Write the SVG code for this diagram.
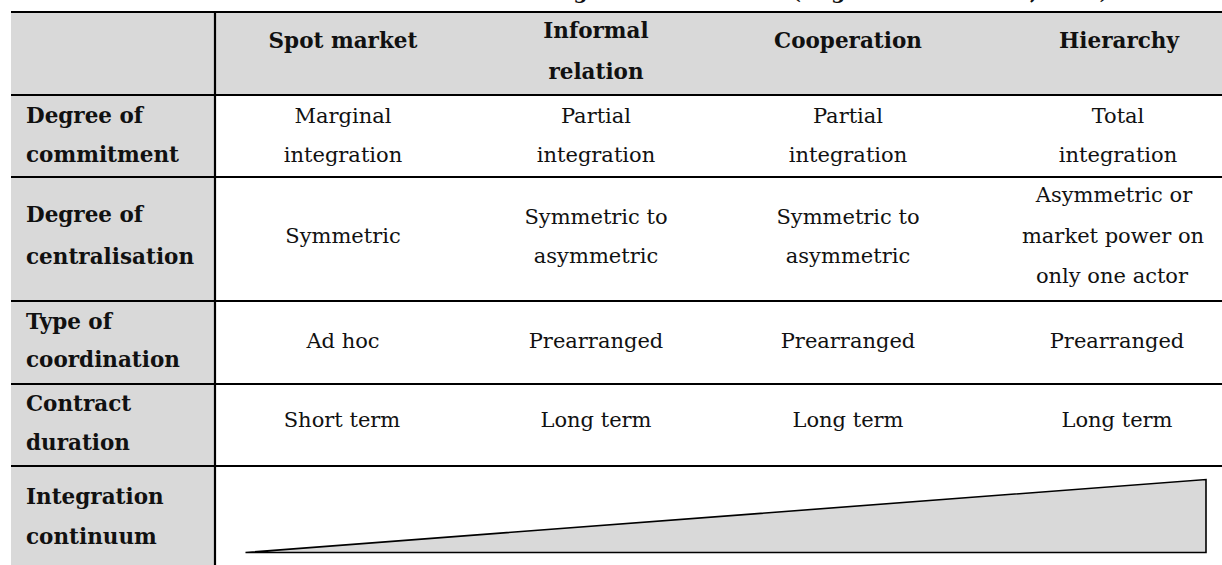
<svg xmlns="http://www.w3.org/2000/svg" width="1222" height="565" viewBox="0 0 1222 565">
  <style>
    .hd { font-family: "DejaVu Serif", "Liberation Serif", serif; font-size: 21.5px; font-weight: bold; fill: #111; }
    .tx { font-family: "DejaVu Serif", "Liberation Serif", serif; font-size: 21px; fill: #111; text-anchor: middle; }
    .mid { text-anchor: middle; }
    .cap { font-family: "DejaVu Serif", "Liberation Serif", serif; font-size: 20px; font-weight: bold; fill: #111; text-anchor: end; }
    .rule { stroke: #000; stroke-width: 2.2; fill: none; }
    .shade { fill: #d9d9d9; }
  </style>

  <rect width="1222" height="565" fill="#fff"/>

  <!-- caption line above the table -->
  <text class="cap" x="1109" y="-1.5">integration continuum (Bogetoft and Olesen, 2004)</text>

  <!-- shaded header row and row-label column -->
  <rect class="shade" x="11" y="12" width="1211" height="83"/>
  <rect class="shade" x="11" y="95" width="204" height="470"/>

  <!-- table rules -->
  <g id="rules">
    <line class="rule" x1="11" y1="12" x2="1222" y2="12"/>
    <line class="rule" x1="11" y1="95" x2="1222" y2="95"/>
    <line class="rule" x1="11" y1="177" x2="1222" y2="177"/>
    <line class="rule" x1="11" y1="301" x2="1222" y2="301"/>
    <line class="rule" x1="11" y1="384" x2="1222" y2="384"/>
    <line class="rule" x1="11" y1="466" x2="1222" y2="466"/>
    <line class="rule" x1="215" y1="12" x2="215" y2="565"/>
  </g>

  <!-- column headings -->
  <g id="header">
    <text class="hd mid" x="343" y="48">Spot market</text>
    <text class="hd mid" x="596" y="37.5">Informal</text>
    <text class="hd mid" x="596" y="78.5">relation</text>
    <text class="hd mid" x="848" y="48">Cooperation</text>
    <text class="hd mid" x="1119" y="48">Hierarchy</text>
  </g>

  <!-- row: degree of commitment -->
  <g id="row-commitment">
    <text class="hd" x="26" y="123">Degree of</text>
    <text class="hd" x="26" y="161.5">commitment</text>
    <text class="tx" x="343" y="123">Marginal</text>
    <text class="tx" x="343" y="161.5">integration</text>
    <text class="tx" x="596" y="123">Partial</text>
    <text class="tx" x="596" y="161.5">integration</text>
    <text class="tx" x="848" y="123">Partial</text>
    <text class="tx" x="848" y="161.5">integration</text>
    <text class="tx" x="1118" y="123">Total</text>
    <text class="tx" x="1118" y="161.5">integration</text>
  </g>

  <!-- row: degree of centralisation -->
  <g id="row-centralisation">
    <text class="hd" x="26" y="222">Degree of</text>
    <text class="hd" x="26" y="264">centralisation</text>
    <text class="tx" x="343" y="243">Symmetric</text>
    <text class="tx" x="596" y="223.5">Symmetric to</text>
    <text class="tx" x="596" y="262.5">asymmetric</text>
    <text class="tx" x="848" y="223.5">Symmetric to</text>
    <text class="tx" x="848" y="262.5">asymmetric</text>
    <text class="tx" x="1114" y="202">Asymmetric or</text>
    <text class="tx" x="1113" y="242.5">market power on</text>
    <text class="tx" x="1112" y="283">only one actor</text>
  </g>

  <!-- row: type of coordination -->
  <g id="row-coordination">
    <text class="hd" x="26" y="328.5">Type of</text>
    <text class="hd" x="26" y="367">coordination</text>
    <text class="tx" x="343" y="348">Ad hoc</text>
    <text class="tx" x="596" y="348">Prearranged</text>
    <text class="tx" x="848" y="348">Prearranged</text>
    <text class="tx" x="1117" y="348">Prearranged</text>
  </g>

  <!-- row: contract duration -->
  <g id="row-duration">
    <text class="hd" x="26" y="410.5">Contract</text>
    <text class="hd" x="26" y="449.5">duration</text>
    <text class="tx" x="342" y="426.5">Short term</text>
    <text class="tx" x="596" y="426.5">Long term</text>
    <text class="tx" x="848" y="426.5">Long term</text>
    <text class="tx" x="1117" y="426.5">Long term</text>
  </g>

  <!-- row: integration continuum, drawn as a widening wedge -->
  <g id="row-continuum">
    <text class="hd" x="26" y="504">Integration</text>
    <text class="hd" x="26" y="544">continuum</text>
    <polygon points="245.5,552.5 1206,479.5 1206,552.5" fill="#d9d9d9" stroke="#000" stroke-width="1.6" stroke-linejoin="miter"/>
  </g>
</svg>
